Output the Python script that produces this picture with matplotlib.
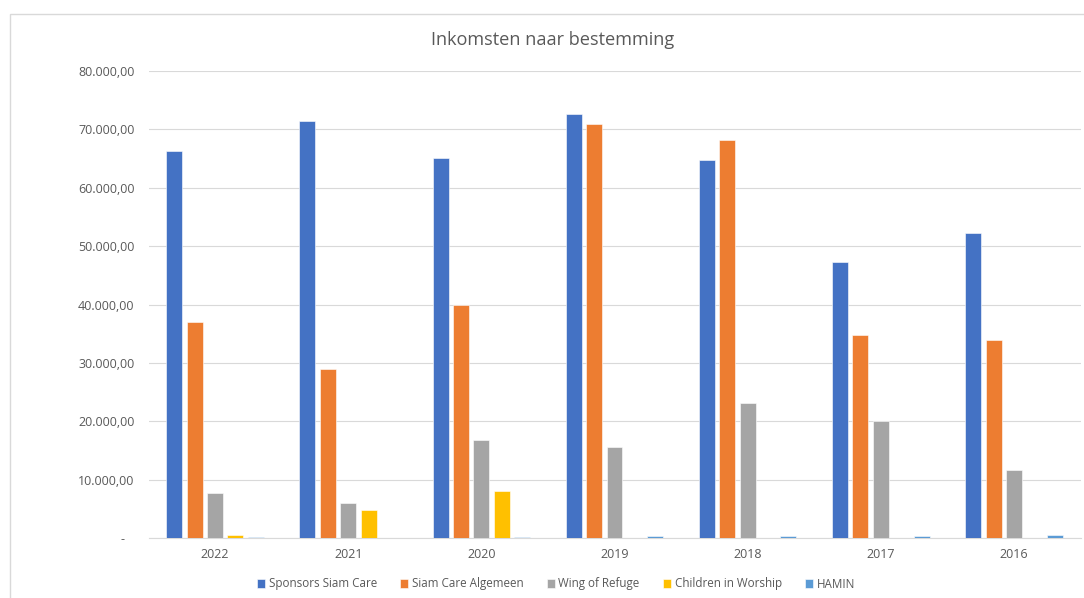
import numpy as np
import matplotlib
matplotlib.use('Agg')
import matplotlib.pyplot as plt
from matplotlib.patches import Rectangle
from matplotlib.ticker import FuncFormatter

years = ['2022', '2021', '2020', '2019', '2018', '2017', '2016']
series_names = ['Sponsors Siam Care', 'Siam Care Algemeen', 'Wing of Refuge',
                'Children in Worship', 'HAMIN']
sponsors = [66300, 71400, 65100, 72600, 64800, 47300, 52300]
algemeen = [37000, 28950, 39950, 70900, 68150, 34800, 33900]
wing = [7750, 5950, 16800, 15550, 23100, 20100, 11650]
children = [450, 4850, 8100, 0, 0, 0, 0]
hamin = [100, 0, 100, 350, 300, 300, 550]

colors = ['#4472C4', '#ED7D31', '#A5A5A5', '#FFC000', '#5B9BD5']
text_col = '#595959'

plt.rcParams['font.family'] = ['Open Sans', 'DejaVu Sans']

fig = plt.figure(figsize=(10.84, 5.98), dpi=100)
# chart frame
fig.patches.append(Rectangle((10 / 1084, -0.05), 1.1, (598 - 14) / 598 + 0.05,
                             transform=fig.transFigure, fill=False,
                             edgecolor='#D9D9D9', linewidth=1))

ax = fig.add_axes([148.5 / 1084, 60 / 598, 932 / 1084, 467 / 598])

x = np.arange(len(years))
pitch = 0.153
width = 0.12
all_series = [sponsors, algemeen, wing, children, hamin]
for i, (name, vals) in enumerate(zip(series_names, all_series)):
    ax.bar(x + (i - 2) * pitch, vals, width, color=colors[i], label=name,
           edgecolor='white', linewidth=0.4, zorder=3)

ax.set_xlim(-0.5, len(years) - 0.5)
ax.set_ylim(0, 80000)
ax.set_yticks(np.arange(0, 80001, 10000))


def fmt(v, pos):
    if v == 0:
        return '-   '
    return f'{v:,.2f}'.replace(',', 'X').replace('.', ',').replace('X', '.')


ax.yaxis.set_major_formatter(FuncFormatter(fmt))
ax.set_xticks(x)
ax.set_xticklabels(years)
ax.tick_params(axis='both', length=0, labelsize=9, colors=text_col)
ax.tick_params(axis='y', pad=10)
ax.tick_params(axis='x', pad=7)
ax.grid(axis='y', color='#D9D9D9', linewidth=0.8, zorder=0)
for s in ['top', 'right', 'left']:
    ax.spines[s].set_visible(False)
ax.spines['bottom'].set_color('#D9D9D9')
ax.spines['bottom'].set_linewidth(0.8)

fig.text(553 / 1084, 1 - 40 / 598, 'Inkomsten naar bestemming', ha='center',
         va='center', fontsize=13.1, color=text_col)

fig.legend(loc='center', bbox_to_anchor=(556 / 1084, 1 - 584 / 598), ncol=5,
           frameon=False, fontsize=8.4, labelcolor=text_col, handlelength=0.7,
           handleheight=0.7, handletextpad=0.3, columnspacing=2.0)

fig.savefig('out.png', dpi=100)
